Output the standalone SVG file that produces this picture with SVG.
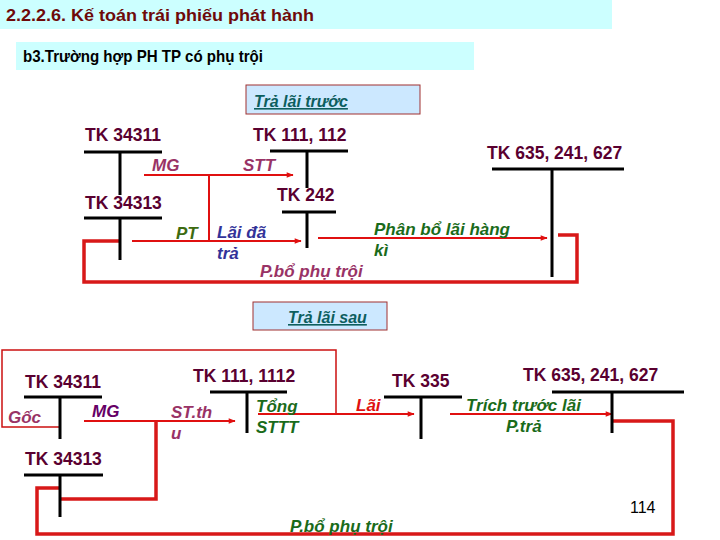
<svg xmlns="http://www.w3.org/2000/svg" width="720" height="540" viewBox="0 0 720 540">
<defs>
<marker id="ah" viewBox="0 0 10 10" refX="9" refY="5" markerWidth="8" markerHeight="7" orient="auto" markerUnits="userSpaceOnUse">
<path d="M0,1 L10,5 L0,9 z" fill="#e01010"/>
</marker>
</defs>
<style>
text{font-family:"Liberation Sans",Arial,sans-serif;font-weight:bold}
.acc{font-size:17.5px;fill:#5a0030}
.t{stroke:#000;stroke-width:3;fill:none}
.r{stroke:#e01010;stroke-width:2;fill:none}
.rk{stroke:#d81818;stroke-width:3.5;fill:none}
.rt{stroke:#cc1010;stroke-width:1.5;fill:none}
.lb{font-size:17px;font-style:italic}
.mag{fill:#993366}
.pur{fill:#660066}
.grn{fill:#1a6b1a}
.olv{fill:#3d6b10}
.blu{fill:#333399}
.red{fill:#e01010}
.hd{font-size:16px;font-style:italic;text-decoration:underline;fill:#0d5e5e}
</style>
<rect width="720" height="540" fill="#fff"/>
<g id="title">
<rect x="0" y="0" width="612" height="29" fill="#ccffff"/>
<text x="6" y="21" font-size="17" fill="#6e0a0a" textLength="308" lengthAdjust="spacingAndGlyphs">2.2.2.6. Kế toán trái phiếu phát hành</text>
</g>
<g id="subtitle">
<rect x="16" y="42" width="458" height="28" fill="#ccffff"/>
<text x="23" y="62" font-size="17" fill="#000" textLength="240" lengthAdjust="spacingAndGlyphs">b3.Trường hợp PH TP có phụ trội</text>
</g>
<g id="box-truoc">
<rect x="246" y="85" width="174" height="29" fill="#cce8ff" stroke="#a03030" stroke-width="1"/>
<text x="254" y="107" class="hd">Trả lãi trước</text>
</g>
<g id="box-sau">
<rect x="253" y="302" width="134" height="28" fill="#cce8ff" stroke="#a03030" stroke-width="1"/>
<text x="288" y="323" class="hd">Trả lãi sau</text>
</g>

<g id="connectors">
<line class="r" x1="144" y1="175" x2="293" y2="175" marker-end="url(#ah)"/>
<line class="r" x1="209" y1="175" x2="209" y2="241"/>
<line class="r" x1="132" y1="241" x2="301" y2="241" marker-end="url(#ah)"/>
<line class="r" x1="318" y1="238" x2="547" y2="238" marker-end="url(#ah)"/>
<polyline class="rk" points="120,241 84,241 84,282 577,282 577,235 558,235"/>
<polyline class="rt" points="60,427 2,427 2,350 336,350 336,414"/>
<line class="r" x1="84" y1="421" x2="235" y2="421" marker-end="url(#ah)"/>
<polyline class="rk" points="156,421 156,499 61,499"/>
<line class="r" x1="258" y1="414" x2="414" y2="414" marker-end="url(#ah)"/>
<line class="r" x1="450" y1="414" x2="612" y2="414" marker-end="url(#ah)"/>
<polyline class="rk" points="612,421 673,421 673,534 37,534 37,488 60,488"/>
</g>

<g id="tk34311-a"><text class="acc" x="85" y="141">TK 34311</text><path class="t" d="M84,152H162M120,152V195"/></g>
<g id="tk111-a"><text class="acc" x="253" y="141">TK 111, 112</text><path class="t" d="M270,151H348M307,151V188"/></g>
<g id="tk34313-a"><text class="acc" x="85" y="209">TK 34313</text><path class="t" d="M84,218H162M120,218V260"/></g>
<g id="tk242-a"><text class="acc" x="277" y="201">TK 242</text><path class="t" d="M282,212H336M307,212V248"/></g>
<g id="tk635-a"><text class="acc" x="487" y="159">TK 635, 241, 627</text><path class="t" d="M492,169H624M552,169V277"/></g>

<g id="tk34311-b"><text class="acc" x="25" y="388">TK 34311</text><path class="t" d="M24,397H102M60,397V439"/></g>
<g id="tk111-b"><text class="acc" x="193" y="382">TK 111, 1112</text><path class="t" d="M210,392H287M247,392V433"/></g>
<g id="tk335-b"><text class="acc" x="392" y="387">TK 335</text><path class="t" d="M384,397H462M421,397V439"/></g>
<g id="tk635-b"><text class="acc" x="523" y="381">TK 635, 241, 627</text><path class="t" d="M552,392H684M612,392V433"/></g>
<g id="tk34313-b"><text class="acc" x="25" y="465">TK 34313</text><path class="t" d="M24,475H103M60,475V517"/></g>

<g id="labels">
<text class="lb mag" x="152" y="171">MG</text>
<text class="lb mag" x="243" y="171">STT</text>
<text class="lb olv" x="176" y="239">PT</text>
<text class="lb blu" x="217" y="238">Lãi đã</text>
<text class="lb blu" x="217" y="259">trả</text>
<text class="lb grn" x="374" y="235">Phân bổ lãi hàng</text>
<text class="lb grn" x="374" y="256">kì</text>
<text class="lb mag" x="260" y="277">P.bổ phụ trội</text>
<text class="lb mag" x="8" y="423">Gốc</text>
<text class="lb pur" x="92" y="417">MG</text>
<text class="lb mag" x="171" y="418">ST.th</text>
<text class="lb mag" x="171" y="439">u</text>
<text class="lb grn" x="256" y="412">Tổng</text>
<text class="lb grn" x="256" y="433">STTT</text>
<text class="lb red" x="356" y="411">Lãi</text>
<text class="lb grn" x="466" y="411">Trích trước lãi</text>
<text class="lb grn" x="506" y="432">P.trả</text>
<text class="lb grn" x="290" y="532">P.bổ phụ trội</text>
<text x="630" y="513" font-size="16" style="font-weight:normal" fill="#000">114</text>
</g>
</svg>
